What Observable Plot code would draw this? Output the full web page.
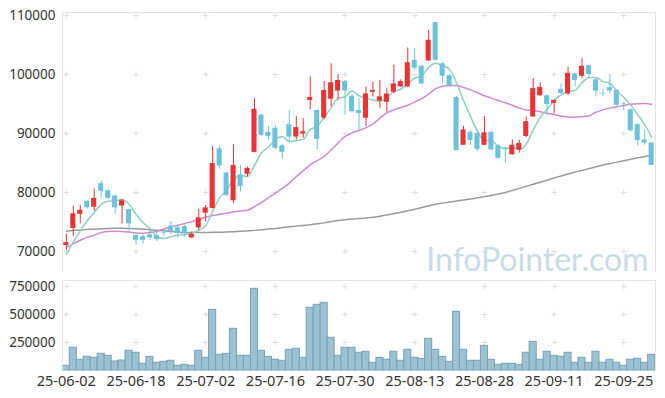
<!DOCTYPE html>
<html><head><meta charset="utf-8">
<script src="https://cdn.jsdelivr.net/npm/d3@7"></script>
<script src="https://cdn.jsdelivr.net/npm/@observablehq/plot@0.6"></script>
<style>
body{margin:0;background:#fff;}
#chart{width:665px;height:398px;position:relative;font-family:"Noto Sans",sans-serif;}
#chart svg{display:block;overflow:visible;}
</style></head><body><div id="chart"></div>
<script>
const dates = ["25-06-02","25-06-04","25-06-05","25-06-09","25-06-10","25-06-11","25-06-12","25-06-13","25-06-16","25-06-17",
"25-06-18","25-06-19","25-06-20","25-06-23","25-06-24","25-06-25","25-06-26","25-06-27","25-06-30","25-07-01",
"25-07-02","25-07-03","25-07-04","25-07-07","25-07-08","25-07-09","25-07-10","25-07-11","25-07-14","25-07-15",
"25-07-16","25-07-17","25-07-18","25-07-21","25-07-22","25-07-23","25-07-24","25-07-25","25-07-28","25-07-29",
"25-07-30","25-07-31","25-08-01","25-08-04","25-08-05","25-08-06","25-08-07","25-08-08","25-08-11","25-08-12",
"25-08-13","25-08-14","25-08-18","25-08-19","25-08-20","25-08-21","25-08-22","25-08-25","25-08-26","25-08-27",
"25-08-28","25-08-29","25-09-01","25-09-02","25-09-03","25-09-04","25-09-05","25-09-08","25-09-09","25-09-10",
"25-09-11","25-09-12","25-09-15","25-09-16","25-09-17","25-09-18","25-09-19","25-09-22","25-09-23","25-09-24",
"25-09-25","25-09-26","25-09-29","25-09-30","25-10-01"];
const open = [71000,73900,76300,78500,77500,81500,80300,79400,77700,77100,
72700,72500,72800,72700,73200,74300,74000,74200,72300,74000,
76500,77300,87400,83300,78600,83000,83100,86800,93100,90200,
90900,87900,91500,89400,89900,95600,93900,92600,95800,97200,
98800,96300,93900,92600,97000,95500,95300,97000,97900,97900,
102400,101400,102300,108800,101800,99800,96100,88000,90200,90000,
88000,90200,87900,87200,86400,87200,89500,92800,96400,96400,
95100,97500,96700,100100,99700,101500,99100,96800,97800,97300,
95000,94000,91500,88900,88400];
const close = [71500,76400,77000,77400,79000,80200,79000,77400,78600,74700,
71900,71900,72300,72000,73100,73400,73100,73000,72900,75700,
77400,84900,84500,79500,84600,81000,84100,94100,89700,89500,
87500,86800,89400,91000,90300,96100,89000,97300,98600,99000,
97200,93700,93400,96700,97300,96200,96700,98400,98800,102000,
101100,98400,105800,102400,99700,98100,87100,90600,88800,87300,
90100,87200,85800,87100,88000,88300,92000,97600,97800,94900,
95600,96800,100200,99000,101400,100000,97200,96700,97200,94800,
94900,90500,88800,88400,84600];
const high = [72900,77700,77800,78600,80600,82000,80500,79600,78800,77200,
73000,72800,73700,73300,73600,75100,74400,74500,73300,77200,
77800,87800,87800,83400,88100,84600,84300,95900,93300,91200,
91300,88100,93900,92900,92500,99600,94000,98800,101800,100000,
99000,96600,95900,97900,98700,99000,97600,101600,99100,104500,
104400,101500,107500,108900,102100,100000,96300,91200,90500,90500,
92900,90300,88100,87700,88900,88900,92800,99300,98600,96600,
95700,98400,101200,100200,102700,101600,99300,97400,100000,97400,
95300,94200,91600,90600,88500];
const low = [70200,72500,74700,77200,76800,79100,78800,76400,74700,73400,
71100,71300,71900,71700,72500,72800,72200,72400,72200,73600,
75000,77200,83900,79300,78100,80100,82600,86700,89500,88800,
87300,85700,88500,88900,89200,94000,87300,92300,94500,95600,
93100,93500,90500,91200,96200,94200,93600,96700,97800,97800,
100700,98300,102200,102300,98500,97800,87100,88000,88000,87000,
88000,87100,85700,85000,86300,86700,89300,92800,96300,93100,
93300,96600,96400,97900,99300,99300,96200,96200,96700,94500,
93900,90200,87900,88000,84600];
const ma5 = [69500,71600,73500,75200,76600,78000,78500,78600,78800,78000,
76300,74900,73900,72500,72200,72500,72800,72900,73100,73600,
74400,76800,79100,80400,82200,82900,82700,84600,86700,87700,
89000,89500,88600,88800,89000,90700,91200,92800,94300,96000,
96200,97200,96400,96000,95700,95500,96100,97100,97500,98400,
99400,99800,101200,101900,101500,100900,98600,95600,92900,90400,
88800,88800,87800,87500,87600,87300,88200,90600,92700,94100,
95600,96500,97100,97300,98600,99500,99500,98800,98500,97200,
96100,94800,93200,91500,89400];
const ma20 = [70700,71300,71900,72400,72750,73200,73400,73420,73400,73300,
73150,73100,73200,73400,73800,74150,74450,74750,75050,75400,
75800,76100,76300,76500,76700,76850,77000,77600,78300,79100,
79900,80700,81600,82700,83700,84700,85400,86100,87200,88400,
89500,90100,90500,91000,91600,92600,93500,94000,94400,94800,
95350,95900,96700,97600,98000,98150,98150,97800,97400,96900,
96400,96000,95600,95200,94800,94300,94000,93900,93700,93400,
93200,92950,92800,92750,92850,93000,93600,94000,94300,94550,
94750,94950,95050,95100,94950];
const ma120 = [73450,73550,73650,73720,73800,73850,73900,73930,73930,73900,
73850,73780,73700,73600,73500,73400,73300,73220,73200,73200,
73220,73250,73270,73300,73350,73420,73500,73580,73680,73800,
73900,74050,74180,74300,74420,74550,74700,74850,75050,75250,
75400,75480,75580,75680,75800,75980,76180,76400,76650,76900,
77150,77450,77750,78000,78200,78380,78550,78720,78900,79100,
79300,79500,79750,80000,80350,80700,81050,81400,81750,82100,
82450,82800,83150,83450,83750,84050,84350,84650,84900,85150,
85400,85650,85900,86100,86300];
const volume = [42000,203000,95500,122300,113400,149100,131200,80400,89300,175900,
158000,59800,122300,68800,77700,86600,42000,50900,42000,175900,
113400,542000,140200,149100,372300,131200,131200,729500,175900,122300,
95500,86600,184800,193800,113400,559800,586600,604500,292000,131200,
202700,202700,158000,167000,68800,113400,95500,167000,86600,184800,
113400,104500,283000,184800,122300,77700,524100,184800,86600,86600,
220500,95500,50900,59800,59800,50900,158000,256300,95500,167000,
131200,122300,158000,68800,113400,68800,167000,68800,95500,68800,
42000,95500,104500,68800,140200];
const xTicks = ["25-06-02","25-06-18","25-07-02","25-07-16","25-07-30","25-08-13","25-08-28","25-09-11","25-09-25"];
const priceTicks = [70000,80000,90000,100000,110000];
const volumeTicks = [250000,500000,750000];
const watermark = "InfoPointer.com";

const rows = dates.map((d,i)=>({date:d, open:open[i], close:close[i], high:high[i], low:low[i],
  ma5:ma5[i], ma20:ma20[i], ma120:ma120[i], volume:volume[i]}));
const UP="#ec3233", DOWN="#6cc2db";
const colorOf = d => d.close >= d.open ? UP : DOWN;
const grid = (ys) => xTicks.flatMap(x => ys.map(y => ({x, y})));

const W=665, ML=62, MR=10;
const font = {fontSize:"13.5px", fontFamily:"'Noto Sans', sans-serif", color:"#333", background:"transparent", overflow:"visible"};

const price = Plot.plot({
  width:W, height:273, marginLeft:ML, marginRight:MR, marginTop:12, marginBottom:1,
  style:font,
  x:{type:"band", domain:dates, padding:0.1, axis:null},
  y:{domain:[66440,110510], ticks:priceTicks, tickSize:0, tickPadding:7, tickFormat:d=>String(d), label:null},
  color:{type:"identity"},
  marks:[
    Plot.dot(grid(priceTicks), {x:"x", y:"y", symbol:"plus", r:2, stroke:"#dedede", strokeWidth:1}),
    Plot.text([watermark], {frameAnchor:"bottom-right", textAnchor:"end", lineAnchor:"bottom", dx:-7, dy:-2,
      fontSize:32, fontFamily:"Lato, 'Noto Sans', sans-serif", fill:"#c9dce6"}),
    Plot.lineY(rows, {x:"date", y:"ma120", stroke:"#9a9a9a", strokeWidth:1.5, curve:"monotone-x"}),
    Plot.lineY(rows, {x:"date", y:"ma20", stroke:"#cf8ccb", strokeWidth:1.5, curve:"monotone-x"}),
    Plot.lineY(rows, {x:"date", y:"ma5", stroke:"#8fcfc1", strokeWidth:1.5, curve:"monotone-x"}),
    Plot.ruleX(rows, {x:"date", y1:"low", y2:"high", stroke:colorOf, strokeWidth:1}),
    Plot.barY(rows, {x:"date", y1:"open", y2:"close", fill:colorOf, insetLeft:0.6, insetRight:0.6})
  ]
});

const vol = Plot.plot({
  width:W, height:125, marginLeft:ML, marginRight:MR, marginTop:7, marginBottom:28,
  style:font,
  x:{type:"band", domain:dates, padding:0.1, ticks:xTicks, tickSize:0, tickPadding:5, label:null},
  y:{domain:[0,803600], ticks:volumeTicks, tickSize:0, tickPadding:7, tickFormat:d=>String(d), label:null},
  marks:[
    Plot.dot(grid(volumeTicks), {x:"x", y:"y", symbol:"plus", r:2, stroke:"#dedede", strokeWidth:1}),
    Plot.barY(rows, {x:"date", y:"volume", fill:"#9cc1d1", stroke:"#76a2b7", strokeWidth:1, insetLeft:-0.4, insetRight:-0.4})
  ]
});
d3.select(vol).selectAll("g[aria-label='x-axis tick label'] text").style("font-size", "14.5px");

function frameLines(svg, top, bottom, sides) {
  const s = d3.select(svg);
  const g = s.append("g").attr("stroke", "#e3e3e3").attr("stroke-width", 1).attr("fill", "none");
  const l = ML + 0.5, r = W - MR + 0.5;
  if (sides.includes("top")) g.append("line").attr("x1", ML).attr("x2", W - MR + 1).attr("y1", top + 0.5).attr("y2", top + 0.5);
  g.append("line").attr("x1", l).attr("x2", l).attr("y1", top).attr("y2", bottom);
  g.append("line").attr("x1", r).attr("x2", r).attr("y1", top).attr("y2", bottom);
}
frameLines(price, 12, 272, ["top"]);
frameLines(vol, 7, 97, ["top"]);

const root = document.getElementById("chart");
root.appendChild(price);
root.appendChild(vol);
</script></body></html>
